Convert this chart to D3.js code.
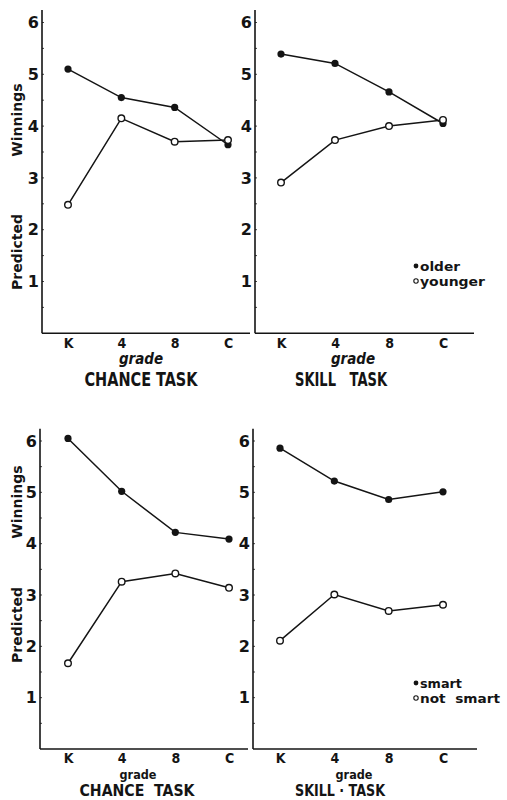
<!DOCTYPE html>
<html>
<head>
<meta charset="utf-8">
<script src="https://cdn.jsdelivr.net/npm/d3@7"></script>
<style>
body { margin: 0; background: #fff; }
svg { display: block; }
</style>
</head>
<body>
<svg width="507" height="800"></svg>
<script>
var grades = ["K", "4", "8", "C"];
var yTicks = [1, 2, 3, 4, 5, 6];

// top row: older / younger
var chanceOlder = [5.1, 4.55, 4.36, 3.64];
var chanceYounger = [2.48, 4.15, 3.7, 3.73];
var skillOlder = [5.39, 5.21, 4.66, 4.05];
var skillYounger = [2.91, 3.73, 4.0, 4.12];

// bottom row: smart / not smart
var chanceSmart = [6.05, 5.02, 4.22, 4.09];
var chanceNotSmart = [1.67, 3.26, 3.42, 3.14];
var skillSmart = [5.86, 5.22, 4.86, 5.01];
var skillNotSmart = [2.11, 3.01, 2.69, 2.81];

var ink = "#141414";
var boldFont = "'DejaVu Sans', sans-serif";
var narrowFont = "'DejaVu Sans Condensed', 'Liberation Sans Narrow', 'DejaVu Sans', sans-serif";

var rows = [
    { yRange: [333.3, 22.5], tickPad: 5, gradeY: 364, gradeSize: 15, taskY: 386, taskSize: 19, gradeItalic: true, winY: 120, predY: 252 },
    { yRange: [749, 441], tickPad: 4, gradeY: 778.5, gradeSize: 12.5, taskY: 796, taskSize: 15, gradeItalic: false, winY: 502, predY: 625 }
];

var panels = [
    { row: 0, axisX: 42, axisEnd: 250, first: 68, last: 228, filled: chanceOlder, open: chanceYounger,
      task: "CHANCE TASK", taskW: 113, gradeX: 141, taskX: 141 },
    { row: 0, axisX: 255, axisEnd: 474, first: 281, last: 443, filled: skillOlder, open: skillYounger,
      task: "SKILL   TASK", taskW: 92, gradeX: 353, taskX: 341,
      legend: ["older", "younger"], legendW: [40, 65], legendY: 266 },
    { row: 1, axisX: 40, axisEnd: 248, first: 68, last: 229, filled: chanceSmart, open: chanceNotSmart,
      task: "CHANCE  TASK", taskW: 115, gradeX: 138, taskX: 137 },
    { row: 1, axisX: 253, axisEnd: 477, first: 280, last: 443, filled: skillSmart, open: skillNotSmart,
      task: "SKILL · TASK", taskW: 90, gradeX: 354, taskX: 340,
      legend: ["smart", "not  smart"], legendW: [42, 80], legendY: 683 }
];

var svg = d3.select("svg");
svg.append("rect").attr("width", 507).attr("height", 800).attr("fill", "#fff");

var drawPanel = function(p)
{
    var row = rows[p.row];
    var g = svg.append("g");
    var xScale = d3.scalePoint().domain(grades).range([p.first, p.last]);
    var yScale = d3.scaleLinear().domain([0, 6]).range(row.yRange);

    // axis lines
    g.append("line")
        .attr("x1", p.axisX).attr("x2", p.axisX)
        .attr("y1", yScale(6.24)).attr("y2", yScale(0))
        .attr("stroke", ink).attr("stroke-width", 1.6);
    g.append("line")
        .attr("x1", p.axisX).attr("x2", p.axisEnd)
        .attr("y1", yScale(0)).attr("y2", yScale(0))
        .attr("stroke", ink).attr("stroke-width", 1.6);

    // little marks on the y axis
    g.selectAll(".minor").data(d3.range(0.5, 6.1, 0.5)).enter().append("line")
        .attr("x1", p.axisX).attr("x2", p.axisX + 2)
        .attr("y1", function(d){ return yScale(d); })
        .attr("y2", function(d){ return yScale(d); })
        .attr("stroke", ink).attr("stroke-width", 0.8);

    var yAxis = d3.axisLeft(yScale).tickValues(yTicks).tickFormat(d3.format("d")).tickSize(0).tickPadding(3);
    var ya = g.append("g").attr("transform", "translate(" + p.axisX + ",0)").call(yAxis);
    ya.select(".domain").remove();
    ya.attr("font-family", boldFont).attr("font-size", 16).attr("font-weight", "bold");
    ya.selectAll("text").attr("fill", ink);

    var xAxis = d3.axisBottom(xScale).tickSize(0).tickPadding(row.tickPad);
    var xa = g.append("g").attr("transform", "translate(0," + yScale(0) + ")").call(xAxis);
    xa.select(".domain").remove();
    xa.attr("font-family", narrowFont).attr("font-size", 14).attr("font-weight", "bold");
    xa.selectAll("text").attr("fill", ink);

    g.append("text")
        .attr("x", p.gradeX).attr("y", row.gradeY)
        .attr("text-anchor", "middle")
        .attr("font-family", narrowFont).attr("font-size", row.gradeSize).attr("font-weight", "bold")
        .attr("font-style", row.gradeItalic ? "italic" : "normal")
        .attr("fill", ink)
        .text("grade");

    g.append("text")
        .attr("x", p.taskX).attr("y", row.taskY)
        .attr("text-anchor", "middle")
        .attr("font-family", narrowFont).attr("font-size", row.taskSize).attr("font-weight", "bold")
        .attr("textLength", p.taskW).attr("lengthAdjust", "spacingAndGlyphs")
        .attr("fill", ink)
        .style("white-space", "pre")
        .text(p.task);

    var line = d3.line()
        .x(function(d, i){ return xScale(grades[i]); })
        .y(function(d){ return yScale(d); });

    [p.filled, p.open].forEach(function(series){
        g.append("path").datum(series).attr("d", line)
            .attr("fill", "none").attr("stroke", ink).attr("stroke-width", 1.5);
    });

    g.selectAll(".filled").data(p.filled).enter().append("circle")
        .attr("cx", function(d, i){ return xScale(grades[i]); })
        .attr("cy", function(d){ return yScale(d); })
        .attr("r", 3.6)
        .attr("fill", ink);

    g.selectAll(".open").data(p.open).enter().append("circle")
        .attr("cx", function(d, i){ return xScale(grades[i]); })
        .attr("cy", function(d){ return yScale(d); })
        .attr("r", 3.3)
        .attr("fill", "#fff").attr("stroke", ink).attr("stroke-width", 1.4);

    if (p.legend)
    {
        var lg = g.append("g").attr("font-family", narrowFont).attr("font-size", 12.5).attr("font-weight", "bold");
        lg.append("circle").attr("cx", 416).attr("cy", p.legendY).attr("r", 2.4).attr("fill", ink);
        lg.append("circle").attr("cx", 416).attr("cy", p.legendY + 15).attr("r", 2.2)
            .attr("fill", "#fff").attr("stroke", ink).attr("stroke-width", 1.1);
        lg.selectAll("text").data(p.legend).enter().append("text")
            .attr("x", 420)
            .attr("y", function(d, i){ return p.legendY + 5 + i * 15; })
            .attr("textLength", function(d, i){ return p.legendW[i]; })
            .attr("lengthAdjust", "spacingAndGlyphs")
            .attr("fill", ink)
            .style("white-space", "pre")
            .text(function(d){ return d; });
    }
}

panels.forEach(drawPanel);

// y titles, one per row
rows.forEach(function(row){
    var x = 22;
    svg.append("text")
        .attr("transform", "translate(" + x + "," + row.winY + ") rotate(-90)")
        .attr("text-anchor", "middle")
        .attr("font-family", boldFont).attr("font-size", 14).attr("font-weight", "bold")
        .attr("fill", ink)
        .text("Winnings");
    svg.append("text")
        .attr("transform", "translate(" + x + "," + row.predY + ") rotate(-90)")
        .attr("text-anchor", "middle")
        .attr("font-family", boldFont).attr("font-size", 14).attr("font-weight", "bold")
        .attr("fill", ink)
        .text("Predicted");
});
</script>
</body>
</html>
